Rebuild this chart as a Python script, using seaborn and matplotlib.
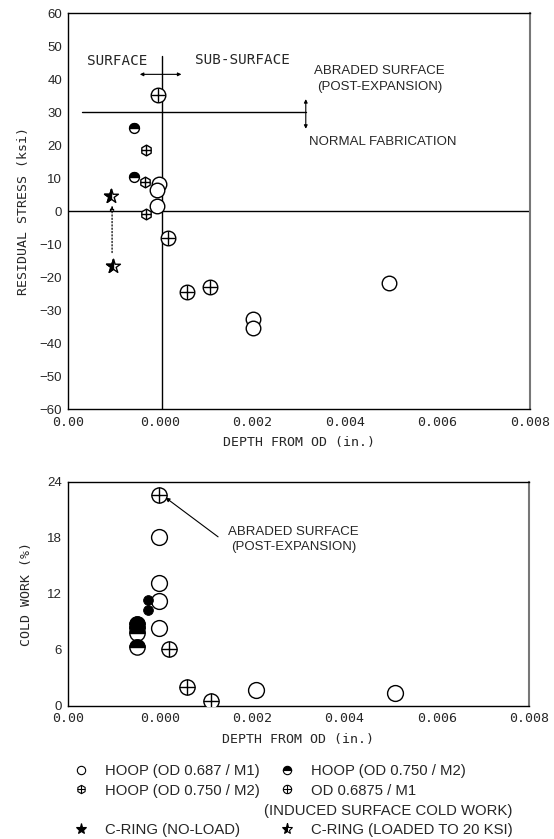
import matplotlib
matplotlib.use("Agg")
import matplotlib.pyplot as plt
import seaborn as sns
from matplotlib.markers import MarkerStyle
from matplotlib.lines import Line2D
from matplotlib.legend_handler import HandlerTuple
from matplotlib.ticker import MultipleLocator, FixedLocator, FixedFormatter

sns.set_style("white")
plt.rcParams['font.family'] = ['Liberation Sans', 'DejaVu Sans']

# ---------------- data: residual stress (top) ----------------
rs_m1_x = [-0.00003, -0.00006, -0.00006, 0.0020, 0.0020, 0.00496]
rs_m1_y = [8.4, 6.6, 1.5, -32.7, -35.4, -21.6]
rs_m2half_x = [-0.00056, -0.00056]
rs_m2half_y = [25.1, 10.4]
rs_m2hex_x = [-0.00030, -0.00032, -0.00030]
rs_m2hex_y = [18.5, 8.9, -0.7]
rs_abr_x = [-0.00004, 0.00016, 0.00057, 0.00108]
rs_abr_y = [35.2, -8.0, -24.4, -22.9]
rs_ring_noload_x = [-0.00103]
rs_ring_noload_y = [-16.6]
rs_ring_loaded_x = [-0.00106]
rs_ring_loaded_y = [4.6]

# ---------------- data: cold work (bottom) ----------------
cw_m1_x = [-0.00003, -0.00003, -0.00003, -0.00003, 0.00208, 0.00509]
cw_m1_y = [18.1, 13.2, 11.2, 8.3, 1.7, 1.4]
cw_m2half_x = [-0.0005, -0.0005, -0.0005, -0.0005]
cw_m2half_y = [8.8, 8.3, 7.8, 6.3]
cw_m2small_x = [-0.00026, -0.00026]
cw_m2small_y = [11.3, 10.3]
cw_abr_x = [-0.00003, 0.00019, 0.00058, 0.0011]
cw_abr_y = [22.6, 6.1, 2.0, 0.5]

x_ticks = [-0.002, 0.0, 0.002, 0.004, 0.006, 0.008]
x_tick_labels = ["0.00", "0.000", "0.002", "0.004", "0.006", "0.008"]

W, H = 554, 839
fig = plt.figure(figsize=(W / 100, H / 100), dpi=100)
ax1 = fig.add_axes([67.7 / W, 1 - 409.3 / H, (530 - 67.7) / W, (409.3 - 13.3) / H])
ax2 = fig.add_axes([67.7 / W, 1 - 706 / H, (529 - 67.7) / W, (706 - 481.7) / H])

MONO = 'DejaVu Sans Mono'
EC = 'black'


def open_pts(ax, x, y, s, marker='o', z=3):
    sns.scatterplot(x=x, y=y, ax=ax, marker=marker, s=s, facecolor='white',
                    edgecolor=EC, linewidth=1.0, zorder=z, legend=False)


def plus_pts(ax, x, y, s, z=4):
    sns.scatterplot(x=x, y=y, ax=ax, marker='+', s=s, color=EC,
                    linewidth=1.0, zorder=z, legend=False)


def half_pts(ax, x, y, s, fill='top', marker='o', z=5):
    open_pts(ax, x, y, s, marker=marker, z=z)
    sns.scatterplot(x=x, y=y, ax=ax, marker=MarkerStyle(marker, fillstyle=fill), s=s,
                    color=EC, edgecolor=EC, linewidth=1.0, zorder=z + 0.1, legend=False)


# ---------- top plot ----------
ax = ax1
ax.axhline(0, color='black', lw=1, zorder=1)
ax.plot([0.00005, 0.00005], [-60, 47], color='black', lw=1, zorder=1)
ax.plot([-0.0017, 0.00315], [30, 30], color='black', lw=1, zorder=1)
ax.annotate('', xy=(0.00315, 25), xytext=(0.00315, 34),
            arrowprops=dict(arrowstyle='<|-|>', color='black', lw=0.8,
                            mutation_scale=5, shrinkA=0, shrinkB=0))
ax.annotate('', xy=(-0.00044, 41.5), xytext=(0.00046, 41.5),
            arrowprops=dict(arrowstyle='<|-|>', color='black', lw=0.8,
                            mutation_scale=5, shrinkA=0, shrinkB=0))
ax.annotate('', xy=(-0.00104, 1.8), xytext=(-0.00104, -12.5),
            arrowprops=dict(arrowstyle='-|>', color='black', lw=0.9, ls=':',
                            mutation_scale=6, shrinkA=0, shrinkB=0))

open_pts(ax, rs_m1_x, rs_m1_y, 110)
half_pts(ax, rs_m2half_x, rs_m2half_y, 50)
open_pts(ax, rs_m2hex_x, rs_m2hex_y, 60, marker='h')
plus_pts(ax, rs_m2hex_x, rs_m2hex_y, 60)
open_pts(ax, rs_abr_x, rs_abr_y, 110, z=6)
plus_pts(ax, rs_abr_x, rs_abr_y, 110, z=7)
half_pts(ax, rs_ring_noload_x, rs_ring_noload_y, 110, fill='left', marker='*')
half_pts(ax, rs_ring_loaded_x, rs_ring_loaded_y, 110, fill='left', marker='*')

ax.text(-0.00093, 45.5, 'SURFACE', family=MONO, fontsize=10.3, ha='center', va='center')
ax.text(0.00178, 46, 'SUB-SURFACE', family=MONO, fontsize=10.3, ha='center', va='center')
ax.text(0.00474, 42.5, 'ABRADED SURFACE', fontsize=9.5, ha='center', va='center')
ax.text(0.00474, 37.7, '(POST-EXPANSION)', fontsize=9.5, ha='center', va='center')
ax.text(0.00482, 21, 'NORMAL FABRICATION', fontsize=9.5, ha='center', va='center')

ax.set_ylim(-60, 60)
ax.yaxis.set_major_locator(MultipleLocator(10))
ax.yaxis.set_minor_locator(MultipleLocator(5))
ax.set_ylabel('RESIDUAL STRESS (ksi)', family=MONO, fontsize=9.5, labelpad=7)

# ---------- bottom plot ----------
ax = ax2
ax.annotate('', xy=(0.00012, 22.3), xytext=(0.00126, 18.1),
            arrowprops=dict(arrowstyle='-|>', color='black', lw=0.8,
                            mutation_scale=6, shrinkA=0, shrinkB=0))
ax.text(0.00289, 18.6, 'ABRADED SURFACE', fontsize=9.5, ha='center', va='center')
ax.text(0.00289, 17.0, '(POST-EXPANSION)', fontsize=9.5, ha='center', va='center')

open_pts(ax, cw_m1_x, cw_m1_y, 130)
half_pts(ax, cw_m2half_x, cw_m2half_y, 120)
sns.scatterplot(x=cw_m2small_x, y=cw_m2small_y, ax=ax, marker='o', s=50,
                color='black', edgecolor='black', zorder=5, legend=False)
open_pts(ax, cw_abr_x, cw_abr_y, 120, z=6)
plus_pts(ax, cw_abr_x, cw_abr_y, 120, z=7)

ax.set_ylim(0, 24)
ax.yaxis.set_major_locator(MultipleLocator(6))
ax.yaxis.set_minor_locator(MultipleLocator(3))
ax.set_ylabel('COLD WORK (%)', family=MONO, fontsize=9.5, labelpad=10)

for ax in (ax1, ax2):
    ax.set_xlim(-0.002, 0.008)
    ax.xaxis.set_major_locator(FixedLocator(x_ticks))
    ax.xaxis.set_major_formatter(FixedFormatter(x_tick_labels))
    ax.xaxis.set_minor_locator(MultipleLocator(0.001))
    ax.tick_params(which='both', direction='in', color='black')
    ax.tick_params(which='major', length=3, width=0.8, labelsize=9.5)
    ax.tick_params(axis='x', which='major', pad=4.5)
    ax.tick_params(axis='y', which='major', pad=4)
    ax.tick_params(which='minor', length=2, width=0.6)
    for lab in ax.get_xticklabels():
        lab.set_family(MONO)
    for sp in ax.spines.values():
        sp.set_color('black')
        sp.set_linewidth(1.0)
    ax.spines['right'].set_color('#777777')
    ax.spines['right'].set_linewidth(1.5)
    ax.set_xlabel('DEPTH FROM OD (in.)', family=MONO, fontsize=9.5, labelpad=5.5)
    ax.set_facecolor('white')

# ---------- legend ----------
ms = 6
h_open = Line2D([], [], ls='', marker='o', ms=ms, mfc='white', mec='black', mew=0.8)
h_half = Line2D([], [], ls='', marker='o', ms=ms, fillstyle='top', mfc='black',
                mfcalt='white', mec='black', mew=0.8)
h_hex = (Line2D([], [], ls='', marker='h', ms=ms, mfc='white', mec='black', mew=0.8),
         Line2D([], [], ls='', marker='+', ms=ms, mec='black', mew=0.8))
h_abr = (Line2D([], [], ls='', marker='o', ms=ms, mfc='white', mec='black', mew=0.8),
         Line2D([], [], ls='', marker='+', ms=ms, mec='black', mew=0.8))
h_star = Line2D([], [], ls='', marker='*', ms=8, mfc='black', mec='black', mew=0.8)
h_star2 = Line2D([], [], ls='', marker='*', ms=8, fillstyle='left', mfc='black',
                 mfcalt='white', mec='black', mew=0.8)
h_blank = Line2D([], [], ls='', marker='')

handles = [h_open, h_hex, h_blank, h_star, h_half, h_abr, h_blank, h_star2]
labels = ['HOOP (OD 0.687 / M1)', 'HOOP (OD 0.750 / M2)', 'HOOP', 'C-RING (NO-LOAD)',
          'HOOP (OD 0.750 / M2)', 'OD 0.6875 / M1', 'HOOP', 'C-RING (LOADED TO 20 KSI)']
leg = fig.legend(handles, labels, ncol=2, frameon=False, fontsize=10.7,
                 handler_map={tuple: HandlerTuple(ndivide=1)},
                 loc='upper left', bbox_to_anchor=(72 / W, 1 - 764 / H),
                 handlelength=1.2, handletextpad=1.0, columnspacing=1.26,
                 labelspacing=0.38, borderpad=0, borderaxespad=0)
for i in (2, 6):
    leg.get_texts()[i].set_alpha(0)
fig.text(264 / W, 1 - 811 / H, '(INDUCED SURFACE COLD WORK)', fontsize=10.7,
         ha='left', va='center')

fig.savefig('out.png', dpi=100, facecolor='white')
